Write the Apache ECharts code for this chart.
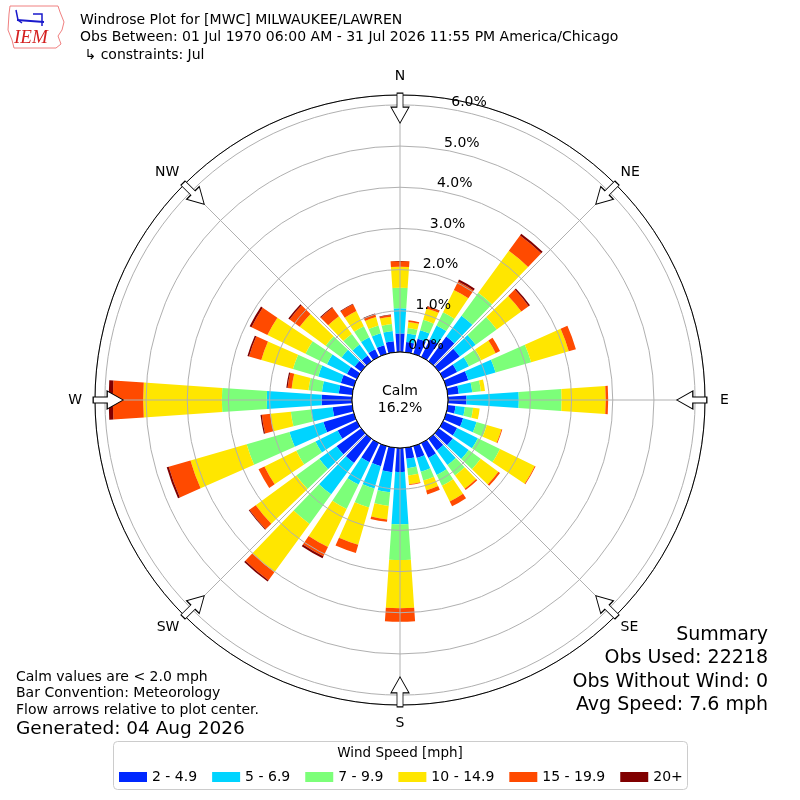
<!DOCTYPE html>
<html>
<head>
<meta charset="utf-8">
<script src="https://cdn.jsdelivr.net/npm/echarts@6/dist/echarts.min.js"></script>
<style>
html,body{margin:0;padding:0;background:#fff;}
#chart{width:800px;height:800px;}
</style>
</head>
<body>
<div id="chart"></div>
<script>
// ---- data ----
const directions = ['0','10','20','30','40','50','60','70','80','90','100','110','120','130','140','150','160','170',
  '180','190','200','210','220','230','240','250','260','270','280','290','300','310','320','330','340','350'];
const speedBins = ['2 - 4.9','5 - 6.9','7 - 9.9','10 - 14.9','15 - 19.9','20+'];
const binColors = ['#0028ff','#00d4ff','#7cff79','#ffe600','#ff4a00','#800000'];
// percent of observations per direction (0..350 deg)
const bin1 = [0.45,0.25,0.38,0.48,0.74,0.63,0.38,0.56,0.27,0.45,0.19,0.43,0.38,0.42,0.35,0.40,0.30,0.27,0.58,0.60,0.51,0.52,0.73,0.74,0.52,0.77,0.48,0.74,0.33,0.33,0.27,0.20,0.17,0.21,0.22,0.27];
const bin2 = [0.61,0.21,0.22,0.37,0.63,0.48,0.32,0.69,0.33,1.27,0.23,0.34,0.56,0.48,0.44,0.46,0.35,0.23,1.27,0.49,0.56,0.60,0.94,0.52,0.60,0.86,0.53,1.33,0.41,0.57,0.54,0.39,0.33,0.32,0.30,0.25];
const bin3 = [0.50,0.13,0.26,0.36,0.69,0.63,0.33,0.90,0.21,1.04,0.20,0.26,0.60,0.36,0.31,0.29,0.22,0.18,0.87,0.33,0.48,0.66,0.89,0.69,0.52,1.08,0.49,1.09,0.33,0.64,0.58,0.48,0.32,0.30,0.20,0.17];
const bin4 = [0.51,0.15,0.29,0.60,1.26,0.74,0.39,0.95,0.10,1.07,0.16,0.37,0.94,0.53,0.40,0.43,0.25,0.21,1.17,0.33,0.94,1.03,1.45,1.22,0.86,1.42,0.50,1.91,0.41,0.80,1.03,0.78,0.53,0.41,0.21,0.18];
const bin5 = [0.14,0.04,0.05,0.23,0.46,0.22,0.12,0.18,0.00,0.06,0.00,0.02,0.02,0.05,0.04,0.13,0.10,0.02,0.33,0.06,0.21,0.25,0.24,0.19,0.16,0.55,0.21,0.74,0.10,0.31,0.43,0.30,0.26,0.18,0.07,0.04];
const bin6 = [0,0,0.01,0.05,0.05,0.04,0,0,0,0,0,0,0,0,0,0,0,0,0,0,0,0.05,0.04,0.02,0,0.05,0.03,0.10,0.03,0.04,0.05,0.04,0.02,0.02,0.02,0.01];
const binValues = [bin1,bin2,bin3,bin4,bin5,bin6];

const compassAngles = [0,45,90,135,180,225,270,315];
const compassNames = ['N','NE','E','SE','S','SW','W','NW'];
const radiusMax = 6.24;
const radiusStep = 1;
const calmLabel = ['Calm','16.2%'];

const titleLines = ['Windrose Plot for [MWC] MILWAUKEE/LAWREN',
  'Obs Between: 01 Jul 1970 06:00 AM - 31 Jul 2026 11:55 PM America/Chicago',
  ' \u21b3 constraints: Jul'];
const noteLines = ['Calm values are < 2.0 mph','Bar Convention: Meteorology','Flow arrows relative to plot center.'];
const generatedText = 'Generated: 04 Aug 2026';
const summaryLines = ['Summary','Obs Used: 22218','Obs Without Wind: 0','Avg Speed: 7.6 mph'];
const legendTitle = 'Wind Speed [mph]';

// ---- chart ----
const chart = echarts.init(document.getElementById('chart'), null, {renderer:'canvas'});
const FONT = 'DejaVu Sans';
const arrowPath = 'path://M6,0L12,0L12,14L18,14L9,30L0,14L6,14Z';

const polarBase = {center:['50%','50%'], radius:[48,305]};

const series = speedBins.map((name,i)=>({
  type:'bar', name:name, coordinateSystem:'polar', polarIndex:0, stack:'total',
  data: binValues[i], barCategoryGap:'22%', silent:true, z:2,
  itemStyle:{color:binColors[i]}
}));
series.push({
  type:'scatter', coordinateSystem:'polar', polarIndex:1, silent:true, z:6,
  symbol: arrowPath, symbolSize:[18,30],
  itemStyle:{color:'#ffffff', borderColor:'#000000', borderWidth:1, opacity:1},
  data: compassAngles.map(a=>({value:[5.92,a], symbolRotate:-a}))
});

const graphics = [];
// logo (simplified)
graphics.push({type:'polygon', z:1, shape:{points:[[10,6],[58,6],[60,12],[64,22],[62,30],[58,36],[61,44],[56,48],[14,48],[12,40],[8,30],[9,14]]},
  style:{fill:'#ffffff', stroke:'#f08080', lineWidth:1}});
graphics.push({type:'polyline', z:1, shape:{points:[[17,20],[44,22]]}, style:{stroke:'#1a1acc', lineWidth:2}});
graphics.push({type:'polyline', z:1, shape:{points:[[16,10],[18,20],[22,23]]}, style:{stroke:'#1a1acc', lineWidth:1.5}});
graphics.push({type:'polyline', z:1, shape:{points:[[33,14],[42,14],[42,26]]}, style:{stroke:'#1a1acc', lineWidth:1.5}});
graphics.push({type:'text', z:1, x:14, y:38, style:{text:'IEM', fill:'#d42020', font:'italic 19px "Liberation Serif"', textVerticalAlign:'middle'}});
// titles
titleLines.forEach((t,i)=>graphics.push({type:'text', x:80, y:20+i*17.5,
  style:{text:t, fill:'#000', font:'14px "'+FONT+'"', textVerticalAlign:'middle'}}));
// calm
graphics.push({type:'circle', z:20, shape:{cx:400, cy:400, r:48}, style:{fill:'#ffffff', stroke:'#000000', lineWidth:1}});
calmLabel.forEach((t,i)=>graphics.push({type:'text', z:21, x:400, y:391+i*17,
  style:{text:t, fill:'#000', font:'14px "'+FONT+'"', textAlign:'center', textVerticalAlign:'middle'}}));
// notes
noteLines.forEach((t,i)=>graphics.push({type:'text', x:16, y:677+i*16.5,
  style:{text:t, fill:'#000', font:'14px "'+FONT+'"', textVerticalAlign:'middle'}}));
graphics.push({type:'text', x:16, y:729, style:{text:generatedText, fill:'#000', font:'18.5px "'+FONT+'"', textVerticalAlign:'middle'}});
// summary
summaryLines.forEach((t,i)=>graphics.push({type:'text', x:768, y:635+i*23.5,
  style:{text:t, fill:'#000', font:'19px "'+FONT+'"', textAlign:'right', textVerticalAlign:'middle'}}));
// legend box
graphics.push({type:'rect', z:0, shape:{x:113.5, y:741.5, width:574, height:48, r:4}, style:{fill:'#ffffff', stroke:'#cccccc', lineWidth:1}});
graphics.push({type:'text', z:1, x:400, y:753, style:{text:legendTitle, fill:'#000', font:'13.5px "'+FONT+'"', textAlign:'center', textVerticalAlign:'middle'}});

const compassRich = {
  n:{fontSize:14, color:'#000', padding:[0,0,5,0]},
  s:{fontSize:14, color:'#000', padding:[4,0,0,0]},
  e:{fontSize:14, color:'#000', padding:[0,0,0,8]},
  w:{fontSize:14, color:'#000', padding:[0,6,0,0]},
  d:{fontSize:14, color:'#000'}
};
const compassStyle = {'N':'n','S':'s','E':'e','W':'w'};

const option = {
  animation:false,
  backgroundColor:'#ffffff',
  textStyle:{fontFamily:FONT},
  polar:[Object.assign({},polarBase), Object.assign({},polarBase), Object.assign({},polarBase)],
  angleAxis:[
    {polarIndex:0, type:'category', data:directions, startAngle:95, clockwise:true, boundaryGap:true,
      axisLine:{show:false}, axisTick:{show:false}, axisLabel:{show:false}, splitLine:{show:false}, splitArea:{show:false}},
    {polarIndex:1, type:'value', min:0, max:360, interval:45, startAngle:90, clockwise:true, z:5,
      axisLine:{show:true, lineStyle:{color:'#000000', width:1}},
      axisTick:{show:false},
      axisLabel:{show:true, margin:7, fontSize:14, color:'#000', rich:compassRich,
        formatter:function(v){ const k = compassAngles.indexOf(v); if(k<0) return '';
          const nm = compassNames[k]; return '{'+(compassStyle[nm]||'d')+'|'+nm+'}'; }},
      splitLine:{show:true, lineStyle:{color:'#b0b0b0', width:1}}},
    {polarIndex:2, type:'value', min:0, max:360, startAngle:80, clockwise:true, show:false}
  ],
  radiusAxis:[
    {polarIndex:0, type:'value', min:0, max:radiusMax, show:false},
    {polarIndex:1, type:'value', min:0, max:radiusMax, interval:radiusStep, z:4,
      axisLine:{show:false}, axisTick:{show:false}, axisLabel:{show:false},
      splitLine:{show:true, lineStyle:{color:'#b0b0b0', width:1}}},
    {polarIndex:2, type:'value', min:0, max:radiusMax, interval:radiusStep, z:7,
      axisLine:{show:false}, axisTick:{show:false}, splitLine:{show:false},
      axisLabel:{show:true, showMaxLabel:false, margin:0, align:'left', verticalAlign:'bottom',
        fontSize:14, color:'#000', formatter:function(v){ return v.toFixed(1)+'%'; }}}
  ],
  legend:{data:speedBins, left:114, top:765, padding:5, orient:'horizontal', icon:'rect', itemWidth:28, itemHeight:10, itemGap:15,
    selectedMode:false, z:10, textStyle:{fontSize:14, color:'#000', fontFamily:FONT}},
  graphic:{elements:graphics},
  series:series
};
chart.setOption(option);
</script>
</body>
</html>
